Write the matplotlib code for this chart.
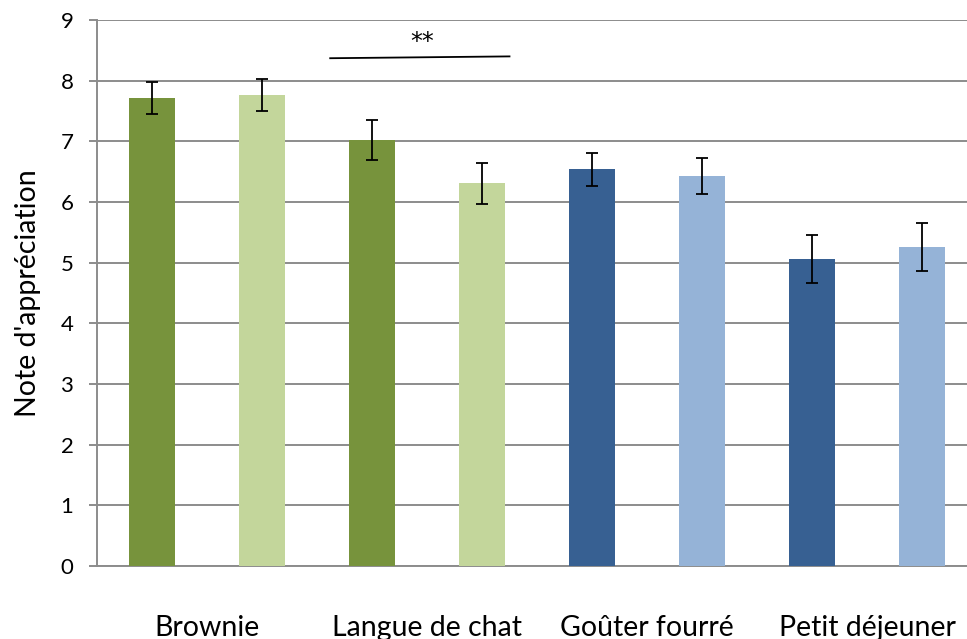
import matplotlib.pyplot as plt
import numpy as np

plt.rcParams["font.family"] = ["Lato", "DejaVu Sans"]

categories = ["Brownie", "Langue de chat", "Goûter fourré", "Petit déjeuner"]
means = [7.71, 7.76, 7.02, 6.31, 6.54, 6.43, 5.06, 5.26]
errors = [0.26, 0.26, 0.33, 0.34, 0.27, 0.30, 0.40, 0.39]
bar_colors = ["#77933C", "#C3D69B", "#77933C", "#C3D69B",
              "#376092", "#95B3D7", "#376092", "#95B3D7"]

fig = plt.figure(figsize=(9.67, 6.39), dpi=100)
ax = fig.add_axes([97 / 967, 1 - 566 / 639, 880 / 967, 546 / 639])

x = np.arange(len(means))
ax.bar(x, means, width=0.42, color=bar_colors, zorder=3)
ax.errorbar(x, means, yerr=errors, fmt="none", ecolor="black",
            elinewidth=1.3, capsize=4, capthick=1.3, zorder=4)

ax.set_xlim(-0.5, 7.5)
ax.set_ylim(0, 9)
ax.set_yticks(range(0, 10))
ax.yaxis.grid(True, color="#8c8c8c", linewidth=1.4, zorder=0)
ax.set_xticks([0.5, 2.5, 4.5, 6.5])
ax.set_xticklabels(categories, fontsize=20.5)
ax.tick_params(axis="x", length=0, pad=35)
ax.tick_params(axis="y", direction="out", length=6, width=1.4,
               color="#8c8c8c", labelsize=16, pad=11)
for side in ["top", "right"]:
    ax.spines[side].set_visible(False)
for side in ["left", "bottom"]:
    ax.spines[side].set_color("#8c8c8c")
    ax.spines[side].set_linewidth(1.4)
ax.set_ylabel("Note d'appréciation", fontsize=20.5, labelpad=14)

# significance marker between Langue de chat bars
ax.plot([1.62, 3.25], [8.37, 8.40], color="black", linewidth=1.3,
        clip_on=False, zorder=5)
ax.text(2.46, 8.64, "**", ha="center", va="center", fontsize=17,
        family="DejaVu Sans")

fig.savefig("out.png", dpi=100)
